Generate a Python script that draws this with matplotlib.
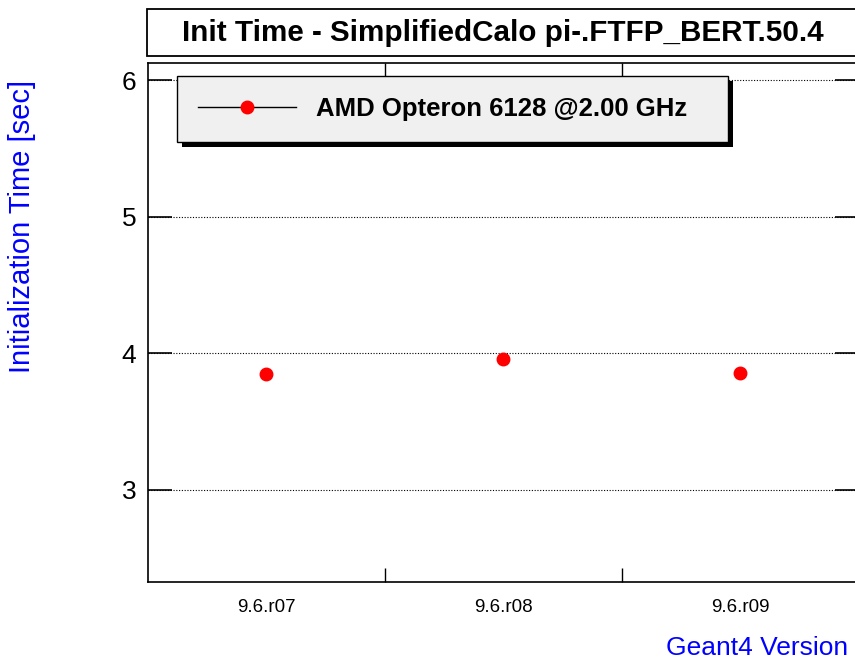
import matplotlib
matplotlib.use("Agg")
import matplotlib.pyplot as plt
from matplotlib.lines import Line2D
from matplotlib.patches import Rectangle

plt.rcParams['font.family'] = ['Liberation Sans', 'DejaVu Sans']

# Init time per Geant4 release
versions = ["9.6.r07", "9.6.r08", "9.6.r09"]
init_time = [3.846, 3.956, 3.856]
machine = "AMD Opteron 6128 @2.00 GHz"
title = "Init Time - SimplifiedCalo pi-.FTFP_BERT.50.4"

W, H = 855, 661
fig = plt.figure(figsize=(W / 100, H / 100), dpi=100)

# axes box in pixel units (from top-left), right edge runs off the canvas
x0, x1, y0, y1 = 147.5, 858.5, 63, 582
ax = fig.add_axes([x0 / W, 1 - y1 / H, (x1 - x0) / W, (y1 - y0) / H])

xpos = [i + 0.5 for i in range(len(versions))]
ax.plot(xpos, init_time, ls='none', marker='o', ms=9, mfc='red', mec='red')

ax.set_xlim(0, len(versions))
ax.set_ylim(2.324, 6.125)

# category boundaries as major ticks, labels on minor ticks at bin centres
ax.set_xticks(range(1, len(versions)))
ax.set_xticklabels([])
ax.set_xticks(xpos, minor=True)
ax.set_xticklabels(versions, minor=True, fontsize=13.5)
ax.tick_params(axis='x', which='major', direction='in', length=10, width=1,
               top=True, bottom=True)
ax.tick_params(axis='x', which='minor', length=0, pad=12)

ax.set_yticks([3, 4, 5, 6])
ax.tick_params(axis='y', direction='in', length=17, width=1.2,
               left=True, right=True, labelsize=19, pad=8)

ax.yaxis.grid(True, ls=(0, (1, 1.5)), color='black', lw=0.8)
ax.set_axisbelow(True)
for s in ax.spines.values():
    s.set_linewidth(1.2)

# title box
fig.add_artist(Rectangle((147 / W, 1 - 56 / H), (870 - 147) / W, 47 / H,
                         transform=fig.transFigure, facecolor='white',
                         edgecolor='black', lw=1.3))
fig.text(503 / W, 1 - 33 / H, title, ha='center', va='center',
         fontsize=21.3, fontweight='bold')

# axis titles
fig.text(22 / W, 1 - 226 / H, "Initialization Time [sec]", rotation=90,
         ha='center', va='center', fontsize=21, color='#0000ff')
fig.text(848 / W, 1 - 648 / H, "Geant4 Version", ha='right', va='center',
         fontsize=19, color='#0000ff')

# legend with line + marker entry
handle = Line2D([], [], color='black', lw=1, marker='o', ms=9,
                mfc='red', mec='red')
leg = ax.legend([handle], [machine], loc='upper left',
                bbox_to_anchor=(177 / W, 1 - 76 / H, (728 - 177) / W, 0),
                bbox_transform=fig.transFigure, mode='expand',
                prop={'size': 18.5, 'weight': 'bold'}, handlelength=3.8,
                handletextpad=0.8, borderpad=0.82, borderaxespad=0,
                fancybox=False, framealpha=1, facecolor='#f0f0f0',
                edgecolor='black')
leg.get_frame().set_linewidth(1.0)
leg.set_zorder(5)

# solid drop shadow under the legend frame
fig.canvas.draw()
bb = leg.get_window_extent()
ax.add_patch(Rectangle((bb.x0 + 5, bb.y0 - 5), bb.width, bb.height,
                       transform=None, facecolor='black', edgecolor='none',
                       zorder=4.5, clip_on=False))

fig.savefig("out.png", dpi=100)
